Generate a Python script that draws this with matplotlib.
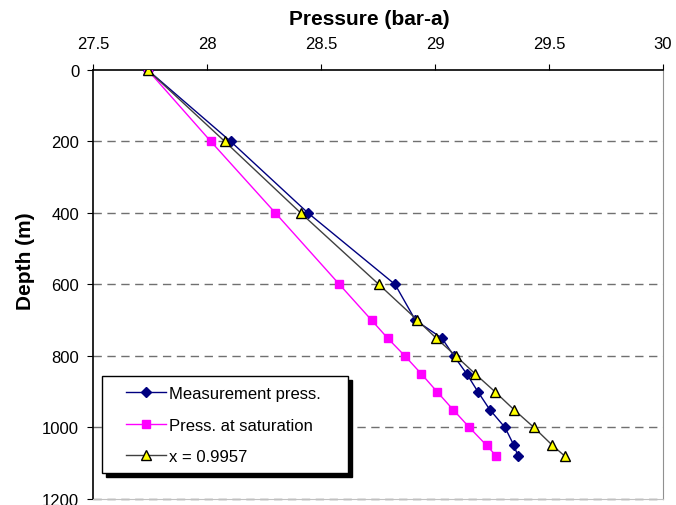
import matplotlib.pyplot as plt
from matplotlib.patches import Rectangle

plt.rcParams['font.family'] = ['Liberation Sans', 'DejaVu Sans']

depth = [0, 200, 400, 600, 700, 750, 800, 850, 900, 950, 1000, 1050, 1080]
measured = [27.74, 28.104, 28.443, 28.825, 28.914, 29.03, 29.083, 29.139, 29.188,
            29.24, 29.307, 29.346, 29.364]
saturation = [27.74, 28.017, 28.30, 28.581, 28.722, 28.792, 28.868, 28.94, 29.009,
              29.079, 29.151, 29.226, 29.269]
x_model = [27.74, 28.078, 28.411, 28.754, 28.923, 29.005, 29.092, 29.176, 29.263,
           29.346, 29.434, 29.515, 29.569]

xticks = [27.5, 28, 28.5, 29, 29.5, 30]
yticks = [0, 200, 400, 600, 800, 1000, 1200]


fig = plt.figure(figsize=(6.76, 5.06), dpi=100)
ax = fig.add_axes([0.1376, 0.0119, 0.8432, 0.8478])

ax.plot(measured, depth, color='#000080', lw=1, marker='D', ms=5,
        mfc='#000080', mec='#000080', label='Measurement press.', zorder=3)
ax.plot(saturation, depth, color='#FF00FF', lw=1, marker='s', ms=6,
        mfc='#FF00FF', mec='#FF00FF', label='Press. at saturation', zorder=3)
ax.plot(x_model, depth, color='#404040', lw=1, marker='^', ms=7,
        mfc='#FFFF00', mec='black', mew=1, label='x = 0.9957', zorder=4)

ax.set_xlim(27.5, 30)
ax.set_ylim(1200, 0)
ax.set_xticks(xticks)
ax.set_xticklabels(['27.5', '28', '28.5', '29', '29.5', '30'])
ax.set_yticks(yticks)
ax.xaxis.tick_top()
ax.xaxis.set_label_position('top')
ax.tick_params(axis='x', direction='out', length=4, labelsize=12, pad=10)
ax.tick_params(axis='y', direction='out', length=4, labelsize=12, pad=6)

for d in yticks[1:]:
    ax.axhline(d, color='#707070', lw=1, ls=(0, (6, 4)), zorder=1, clip_on=False)

ax.spines['right'].set_color('#909090')
ax.spines['bottom'].set_color('#c0c0c0')
ax.spines['top'].set_linewidth(1.2)
ax.spines['left'].set_linewidth(1.2)

ax.set_xlabel('Pressure (bar-a)', fontsize=15, fontweight='bold')
ax.xaxis.set_label_coords(0.485, 1.119)
ax.xaxis.label.set_va('center')
ax.set_ylabel('Depth (m)', fontsize=15, fontweight='bold')
ax.yaxis.set_label_coords(-0.119, 0.557)
ax.yaxis.label.set_va('center')

# legend box with hard black shadow, drawn in pixels like the reference
def px(x, y):
    return ((x - 93) / 570, (500 - y) / 429)

x0, y0 = px(102, 474)
x1, y1 = px(348, 377)
sx, sy = 4 / 570, 4 / 429
ax.add_patch(Rectangle((x0 + sx, y0 - sy), x1 - x0, y1 - y0, transform=ax.transAxes,
                       facecolor='black', edgecolor='black', zorder=5))
ax.add_patch(Rectangle((x0, y0), x1 - x0, y1 - y0, transform=ax.transAxes,
                       facecolor='white', edgecolor='black', lw=1, zorder=6))

ax_pos = px(126, 387)
leg = ax.legend(loc='upper left', bbox_to_anchor=ax_pos, fontsize=12,
                frameon=False, borderpad=0, borderaxespad=0,
                handlelength=2.4, handletextpad=0.15, labelspacing=1.0)
leg.set_zorder(7)

fig.savefig('out.png', dpi=100)
